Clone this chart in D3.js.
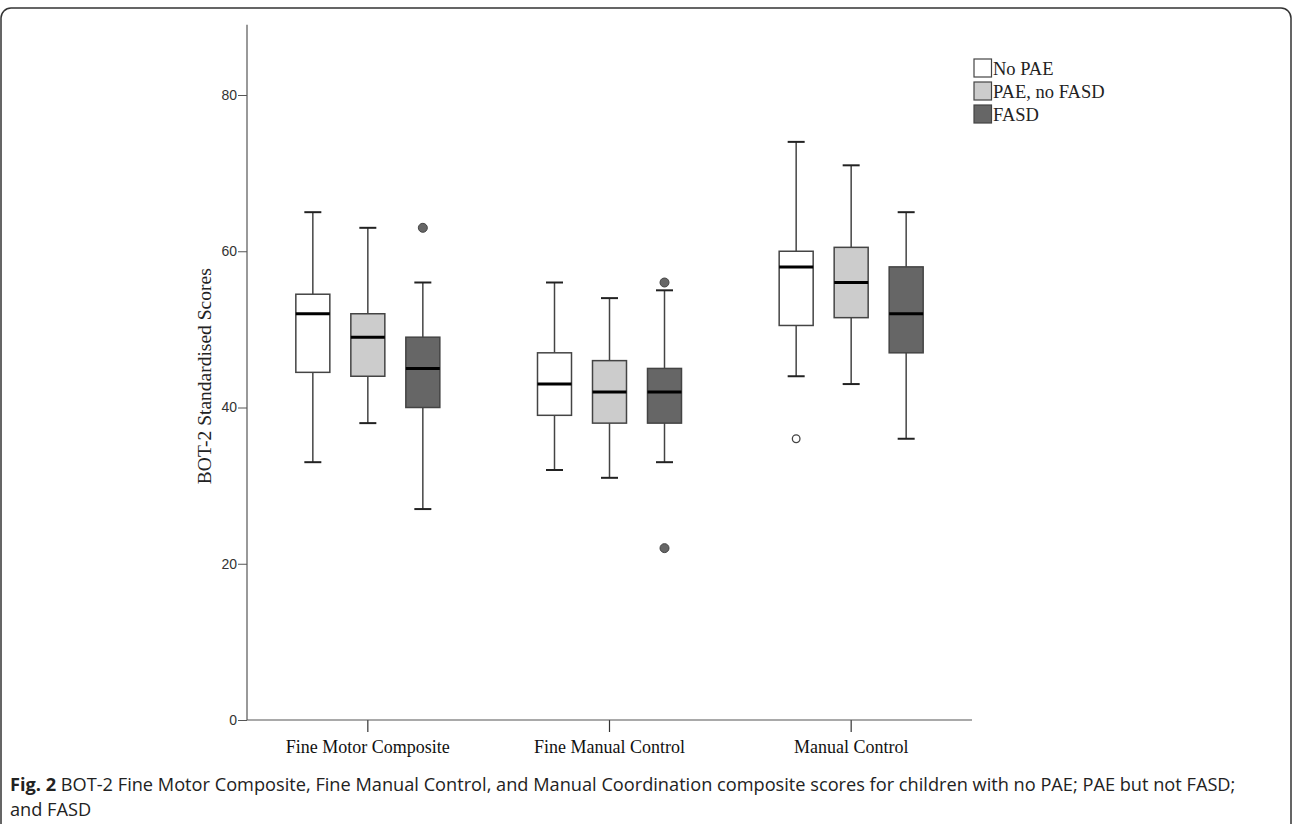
<!DOCTYPE html>
<html>
<head>
<meta charset="utf-8">
<script src="https://cdn.jsdelivr.net/npm/d3@7"></script>
<style>
  body { margin: 0; background: #fff; }
  svg { display: block; }
</style>
</head>
<body>
<div id="chart"></div>
<script>
// BOT-2 boxplots by exposure group
const categories = ["Fine Motor Composite", "Fine Manual Control", "Manual Control"];
const groups = ["No PAE", "PAE, no FASD", "FASD"];
const groupFill = ["#ffffff", "#cccccc", "#666666"];
const yTicks = [0, 20, 40, 60, 80];

// five-number summaries per group, one value per category
const noPaeLow    = [33, 32, 44];
const noPaeQ1     = [44.5, 39, 50.5];
const noPaeMedian = [52, 43, 58];
const noPaeQ3     = [54.5, 47, 60];
const noPaeHigh   = [65, 56, 74];
const noPaeOut    = [[], [], [36]];

const paeLow    = [38, 31, 43];
const paeQ1     = [44, 38, 51.5];
const paeMedian = [49, 42, 56];
const paeQ3     = [52, 46, 60.5];
const paeHigh   = [63, 54, 71];
const paeOut    = [[], [], []];

const fasdLow    = [27, 33, 36];
const fasdQ1     = [40, 38, 47];
const fasdMedian = [45, 42, 52];
const fasdQ3     = [49, 45, 58];
const fasdHigh   = [56, 55, 65];
const fasdOut    = [[63], [56, 22], []];

const series = [
    {low: noPaeLow, q1: noPaeQ1, med: noPaeMedian, q3: noPaeQ3, high: noPaeHigh, out: noPaeOut},
    {low: paeLow, q1: paeQ1, med: paeMedian, q3: paeQ3, high: paeHigh, out: paeOut},
    {low: fasdLow, q1: fasdQ1, med: fasdMedian, q3: fasdQ3, high: fasdHigh, out: fasdOut}
];

const W = 1292, H = 824;
const svg = d3.select('#chart').append('svg')
    .attr('width', W)
    .attr('height', H);

// figure frame
svg.append('rect')
    .attr('x', 1).attr('y', 8)
    .attr('width', W - 2).attr('height', H + 20)
    .attr('rx', 10)
    .style('fill', 'none')
    .style('stroke', '#333')
    .style('stroke-width', 1.5);

const x = d3.scaleBand()
    .domain(categories)
    .range([247, 972]);

const xg = d3.scalePoint()
    .domain(groups)
    .range([-55, 55]);

const y = d3.scaleLinear()
    .domain([0, 89])
    .range([720, 720 - 89 * 7.8125]);

const boxW = 34, capW = 17;
const stroke = '#444';
const serif = '"Liberation Serif", "Times New Roman", serif';

// axes
const yAxis = svg.append('g')
    .attr('transform', 'translate(247,0)')
    .call(d3.axisLeft(y).tickValues(yTicks).tickSize(9).tickPadding(1).tickFormat(d3.format('d')));
yAxis.select('.domain').remove();
yAxis.selectAll('.tick line').style('stroke', '#555');
yAxis.selectAll('.tick text')
    .style('font-family', '"Liberation Sans", Arial, sans-serif')
    .style('font-size', '14px')
    .style('fill', '#333');

svg.append('line')
    .attr('x1', 247).attr('x2', 247)
    .attr('y1', y(89)).attr('y2', y(0))
    .style('stroke', '#555').style('stroke-width', 1.2);

const xAxis = svg.append('g')
    .attr('transform', `translate(0,${y(0)})`)
    .call(d3.axisBottom(x).tickSize(12).tickPadding(8));
xAxis.select('.domain').remove();
xAxis.selectAll('.tick line').style('stroke', '#333').style('stroke-width', 1.2);
xAxis.selectAll('.tick text')
    .style('font-family', serif)
    .style('font-size', '18px')
    .style('fill', '#111');

svg.append('line')
    .attr('x1', 247).attr('x2', 972)
    .attr('y1', y(0)).attr('y2', y(0))
    .style('stroke', '#555').style('stroke-width', 1.2);

// y title
svg.append('text')
    .attr('transform', `translate(211,${y(44)}) rotate(-90)`)
    .attr('text-anchor', 'middle')
    .style('font-family', serif)
    .style('font-size', '19.5px')
    .style('fill', '#222')
    .text('BOT-2 Standardised Scores');

// boxes
series.forEach((s, gi) => {
    const g = svg.append('g');
    categories.forEach((c, ci) => {
        const cx = x(c) + x.bandwidth() / 2 + xg(groups[gi]);
        // whiskers
        g.append('line')
            .attr('x1', cx).attr('x2', cx)
            .attr('y1', y(s.high[ci])).attr('y2', y(s.q3[ci]))
            .style('stroke', stroke).style('stroke-width', 1.5);
        g.append('line')
            .attr('x1', cx).attr('x2', cx)
            .attr('y1', y(s.q1[ci])).attr('y2', y(s.low[ci]))
            .style('stroke', stroke).style('stroke-width', 1.5);
        [s.high[ci], s.low[ci]].forEach(v => {
            g.append('line')
                .attr('x1', cx - capW / 2).attr('x2', cx + capW / 2)
                .attr('y1', y(v)).attr('y2', y(v))
                .style('stroke', '#222').style('stroke-width', 2);
        });
        g.append('rect')
            .attr('x', cx - boxW / 2)
            .attr('y', y(s.q3[ci]))
            .attr('width', boxW)
            .attr('height', y(s.q1[ci]) - y(s.q3[ci]))
            .style('fill', groupFill[gi])
            .style('stroke', stroke)
            .style('stroke-width', 1.5);
        g.append('line')
            .attr('x1', cx - boxW / 2).attr('x2', cx + boxW / 2)
            .attr('y1', y(s.med[ci])).attr('y2', y(s.med[ci]))
            .style('stroke', '#000').style('stroke-width', 3);
        s.out[ci].forEach(v => {
            g.append('circle')
                .attr('cx', cx).attr('cy', y(v))
                .attr('r', gi === 0 ? 3.8 : 4.5)
                .style('fill', gi === 0 ? '#fff' : groupFill[gi])
                .style('stroke', '#444')
                .style('stroke-width', gi === 0 ? 1.3 : 1);
        });
    });
});

// legend
const legend = svg.append('g').attr('transform', 'translate(974,59)');
groups.forEach((name, i) => {
    const row = legend.append('g').attr('transform', `translate(0,${i * 23})`);
    row.append('rect')
        .attr('width', 17.5).attr('height', 18)
        .style('fill', groupFill[i])
        .style('stroke', '#444')
        .style('stroke-width', 1.2);
    row.append('text')
        .attr('x', 19).attr('y', 16)
        .style('font-family', serif)
        .style('font-size', '18.5px')
        .style('fill', '#222')
        .text(name);
});

// caption
const cap = svg.append('text')
    .attr('x', 10).attr('y', 791)
    .style('font-family', '"Open Sans", sans-serif')
    .style('font-size', '18.2px')
    .style('fill', '#222');
cap.append('tspan').style('font-weight', 'bold').text('Fig. 2');
cap.append('tspan').text(' BOT-2 Fine Motor Composite, Fine Manual Control, and Manual Coordination composite scores for children with no PAE; PAE but not FASD;');
svg.append('text')
    .attr('x', 10).attr('y', 816)
    .style('font-family', '"Open Sans", sans-serif')
    .style('font-size', '18.2px')
    .style('fill', '#222')
    .text('and FASD');
</script>
</body>
</html>
